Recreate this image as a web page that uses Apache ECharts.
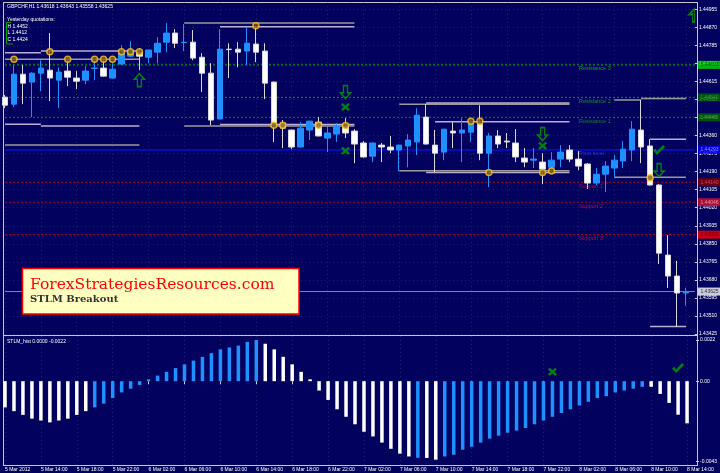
<!DOCTYPE html>
<html><head><meta charset="utf-8">
<script src="https://cdn.jsdelivr.net/npm/echarts@6/dist/echarts.min.js"></script>
<style>html,body{margin:0;padding:0;background:#02025e;}#c{width:720px;height:473px;}</style>
</head><body><div id="c"></div>
<script>
// ---------------- DATA ----------------
const symbolTitle = 'GBPCHF,H1 1.43618 1.43643 1.43558 1.43625';
const startHourUTC = [2012, 2, 5, 10];
const barCount = 77;
const xTickLabels = ['5 Mar 2012','5 Mar 14:00','5 Mar 18:00','5 Mar 22:00','6 Mar 02:00','6 Mar 06:00','6 Mar 10:00','6 Mar 14:00','6 Mar 18:00','6 Mar 22:00','7 Mar 02:00','7 Mar 06:00','7 Mar 10:00','7 Mar 14:00','7 Mar 18:00','7 Mar 22:00','8 Mar 02:00','8 Mar 06:00','8 Mar 10:00','8 Mar 14:00'];
const priceTicks = [1.43425,1.43510,1.43595,1.43680,1.43765,1.43850,1.43935,1.44020,1.44105,1.44190,1.44275,1.44360,1.44445,1.44530,1.44615,1.44700,1.44785,1.44870,1.44955];
const histTicks = [0.0022, 0, -0.0043];

const opens  = [1.44541,1.44508,1.44649,1.44612,1.44654,1.44668,1.44621,1.44664,1.44631,1.44621,1.44676,1.44678,1.44631,1.44697,1.44734,1.44753,1.44729,1.44753,1.44800,1.44843,1.44798,1.44800,1.44729,1.44654,1.44438,1.44767,1.44767,1.44758,1.44791,1.44758,1.44612,1.44419,1.44386,1.44306,1.44386,1.44423,1.44348,1.44367,1.44405,1.44381,1.44325,1.44263,1.44315,1.44306,1.44292,1.44311,1.44330,1.44447,1.44315,1.44282,1.44381,1.44372,1.44376,1.44414,1.44277,1.44358,1.44334,1.44325,1.44254,1.44244,1.44235,1.44211,1.44249,1.44292,1.44249,1.44226,1.44136,1.44178,1.44207,1.44240,1.44292,1.44386,1.44311,1.44127,1.43797,1.43698,1.43618];
const highs  = [1.44551,1.44692,1.44692,1.44659,1.44715,1.44843,1.44682,1.44725,1.44664,1.44687,1.44715,1.44725,1.44701,1.44786,1.44805,1.44772,1.44765,1.44824,1.44890,1.44861,1.44885,1.44857,1.44748,1.44701,1.44861,1.44795,1.44800,1.44871,1.44876,1.44795,1.44614,1.44433,1.44388,1.44423,1.44430,1.44447,1.44409,1.44419,1.44442,1.44390,1.44334,1.44327,1.44325,1.44358,1.44317,1.44367,1.44489,1.44508,1.44386,1.44392,1.44423,1.44442,1.44438,1.44503,1.44372,1.44386,1.44372,1.44390,1.44301,1.44301,1.44277,1.44282,1.44315,1.44315,1.44287,1.44230,1.44207,1.44240,1.44268,1.44334,1.44428,1.44527,1.44343,1.44131,1.43891,1.43769,1.43643];
const lows   = [1.44489,1.44494,1.44508,1.44447,1.44569,1.44522,1.44489,1.44593,1.44579,1.44602,1.44621,1.44638,1.44629,1.44695,1.44729,1.44668,1.44701,1.44701,1.44753,1.44772,1.44758,1.44715,1.44565,1.44409,1.44436,1.44631,1.44682,1.44692,1.44706,1.44532,1.44330,1.44301,1.44296,1.44304,1.44339,1.44356,1.44282,1.44330,1.44348,1.44230,1.44257,1.44235,1.44235,1.44277,1.44192,1.44211,1.44268,1.44318,1.44188,1.44244,1.44301,1.44235,1.44330,1.44244,1.44117,1.44301,1.44301,1.44235,1.44211,1.44207,1.44131,1.44183,1.44211,1.44235,1.44197,1.44108,1.44127,1.44094,1.44164,1.44207,1.44240,1.44230,1.44125,1.43755,1.43642,1.43458,1.43558];
const closes = [1.44503,1.44649,1.44607,1.44654,1.44678,1.44631,1.44659,1.44635,1.44616,1.44664,1.44678,1.44640,1.44673,1.44748,1.44758,1.44734,1.44763,1.44795,1.44843,1.44795,1.44800,1.44725,1.44654,1.44433,1.44767,1.44765,1.44753,1.44795,1.44753,1.44607,1.44414,1.44395,1.44306,1.44395,1.44428,1.44358,1.44372,1.44405,1.44372,1.44320,1.44259,1.44325,1.44306,1.44292,1.44315,1.44339,1.44456,1.44320,1.44277,1.44390,1.44372,1.44386,1.44419,1.44277,1.44358,1.44320,1.44330,1.44259,1.44235,1.44249,1.44202,1.44244,1.44282,1.44249,1.44216,1.44136,1.44178,1.44216,1.44244,1.44296,1.44390,1.44306,1.44127,1.43806,1.43698,1.43618,1.43625];

// STLM histogram values and colour flag (1 = blue, 0 = white)
const stlmHist = [-0.0014,-0.0016,-0.0018,-0.0020,-0.0021,-0.0022,-0.0021,-0.0020,-0.0018,-0.0016,-0.0014,-0.0012,-0.0009,-0.0006,-0.0004,-0.0002,0.0001,0.0003,0.0005,0.0007,0.0009,0.0011,0.0013,0.0015,0.0017,0.0018,0.0019,0.0021,0.0022,0.0020,0.0017,0.0013,0.0009,0.0005,0.0001,-0.0005,-0.0010,-0.0015,-0.0019,-0.0023,-0.0027,-0.00295,-0.00328,-0.00361,-0.00387,-0.00402,-0.00409,-0.00410,-0.00419,-0.00402,-0.00393,-0.00366,-0.00350,-0.00328,-0.00307,-0.00291,-0.00275,-0.00264,-0.0025,-0.0023,-0.0021,-0.0019,-0.0017,-0.0015,-0.0013,-0.0011,-0.0009,-0.0008,-0.0006,-0.0005,-0.0004,-0.0003,-0.0003,-0.00068,-0.00116,-0.00179,-0.00225];
const stlmBlue = [0,0,0,0,0,0,0,0,0,0,1,1,1,1,1,1,1,1,1,1,1,1,1,1,1,1,1,1,1,0,0,0,0,0,0,0,0,0,0,0,0,0,0,0,0,0,1,0,0,1,1,1,1,1,1,1,1,1,1,1,1,1,1,1,1,1,1,1,1,1,1,1,0,0,0,0,0];

// yesterday quotations and pivot levels
const yesterdayText = ['Yesterday quotations:', 'H 1.4452', 'L 1.4412', 'C 1.4424'];
const levelNames  = ['Resistance 3','Resistance 2','Resistance 1','Pivot level','Support 1','Support 2','Support 3'];
const levelValues = [1.44693,1.44540,1.44446,1.44293,1.44140,1.44046,1.43893];

// session range segments [startBar, endBar, price]
const grayRanges = [[0,15,1.44720],[0,15,1.44315],[20,39,1.44890],[20,39,1.44405],[44,63,1.44507],[44,63,1.44194],[68,71,1.44527],[71,76,1.44535],[68,76,1.44164]];
const lilacRanges = [[0,4,1.44750],[4,15,1.44758],[0,4,1.44413],[4,15,1.44405],[24,39,1.44873],[24,39,1.44412],[47,63,1.44514],[48,63,1.44425],[47,63,1.44186],[72,76,1.44343],[72,76,1.43460]];

// signal markers [bar, price]
const touchCircles = [[1,1.44720],[5,1.44755],[7,1.44720],[10,1.44720],[11,1.44720],[12,1.44720],[13,1.44755],[14,1.44755],[15,1.44755],[28,1.44877],[30,1.44409],[31,1.44409],[35,1.44409],[38,1.44407],[52,1.44428],[53,1.44428],[54,1.44186],[60,1.44186],[61,1.44193],[72,1.44161]];
const upArrows = [[15,1.44621]];
const edgeUpArrows = [[77,1.44927]];
const downArrows = [[38,1.44565],[60,1.44367],[73,1.44197]];
const crossMarks = [[38,1.44494],[38,1.44288],[60,1.44312]];
const checkMarks = [[73,1.44292]];
const histCross = [[61,0.0005]];
const histCheck = [[75,0.0007]];

// ---------------- CHART ----------------
const BG = '#02025e';
const GRIDC = 'rgba(110,110,170,0.28)';
const FONT = 'Liberation Sans, Arial, sans-serif';
const cats = [];
(function(){
  const t0 = Date.UTC(startHourUTC[0], startHourUTC[1], startHourUTC[2], startHourUTC[3]);
  for (let k = 0; k <= barCount; k++) {
    const d = new Date(t0 + k * 3600000);
    cats.push(d.getUTCDate() + ' Mar ' + String(d.getUTCHours()).padStart(2,'0') + ':00');
  }
})();
const lastIdx = barCount;
const PMIN = 1.43425, PMAX = 1.449893;
const HMIN = -0.004476, HMAX = 0.002414;

const levelStyle = [
  {c:'#00b400', t:[2,2], w:1, bg:'#00e000', fc:'#005000', tc:'#00d000'},
  {c:'#1a8a1a', t:[2,2], w:1, bg:'#006400', fc:'#40b040', tc:'#18b018'},
  {c:'#1a7a1a', t:[2,2], w:1, bg:'#006400', fc:'#40b040', tc:'#18a018'},
  {c:'#0010ff', t:'solid', w:1.2, bg:'#0000ff', fc:'#b0b0ff', tc:'#4040ff'},
  {c:'#b00018', t:[2,2], w:1, bg:'#800000', fc:'#ff5050', tc:'#e01030'},
  {c:'#b00018', t:[2,2], w:1, bg:'#d01030', fc:'#ffb0b0', tc:'#e01030'},
  {c:'#c00018', t:[2,2], w:1, bg:'#ff0000', fc:'#500000', tc:'#e01030'}
];
const lastClose = closes[closes.length - 1];

const extraSeries = [];
function addSegs(list, color, width) {
  list.forEach(s => extraSeries.push({
    type: 'line', xAxisIndex: 0, yAxisIndex: 0, silent: true, symbol: 'none', z: 3,
    lineStyle: {color: color, width: width}, data: [[s[0], s[2]], [s[1], s[2]]]
  }));
}
levelValues.forEach((v, k) => extraSeries.push({
  type: 'line', xAxisIndex: 0, yAxisIndex: 0, silent: true, symbol: 'none', z: 2,
  lineStyle: {color: levelStyle[k].c, type: levelStyle[k].t, width: levelStyle[k].w},
  data: [[0, v], [lastIdx, v]]
}));
extraSeries.push({
  type: 'line', xAxisIndex: 0, yAxisIndex: 0, silent: true, symbol: 'none', z: 2,
  lineStyle: {color: '#8a8a8a', width: 1}, data: [[0, lastClose], [lastIdx, lastClose]]
});
addSegs(grayRanges, '#9a9a9a', 1.5);
addSegs(lilacRanges, '#bcaed2', 1.5);

const tagData = levelValues.map((v, k) => ({
  value: [lastIdx, v],
  label: {color: levelStyle[k].fc, backgroundColor: levelStyle[k].bg}
}));
tagData.push({value: [lastIdx, lastClose], label: {color: '#000000', backgroundColor: '#ffffff'}});

const UP = 'path://M5,0 L10,6 L7,6 L7,14 L3,14 L3,6 L0,6 Z';
const HALFUP = 'path://M5,0 L5,14 L3,14 L3,6 L0,6 Z';
const DOWN = 'path://M3,0 L7,0 L7,8 L10,8 L5,14 L0,8 L3,8 Z';
const XM = 'path://M0,2 L2,0 L5,3 L8,0 L10,2 L7,5 L10,8 L8,10 L5,7 L2,10 L0,8 L3,5 Z';
const CHK = 'path://M0,6 L2,4 L4,7 L10,0 L12,2 L4,11 Z';

const option = {
  backgroundColor: BG,
  animation: false,
  textStyle: {fontFamily: FONT},
  grid: [
    {left: 5, top: 2, width: 692, height: 332},
    {left: 5, top: 336, width: 692, height: 129}
  ],
  xAxis: [
    {type: 'category', gridIndex: 0, data: cats, boundaryGap: false,
     axisLine: {show: false}, axisTick: {show: false}, axisLabel: {show: false},
     splitLine: {show: true, interval: 3, lineStyle: {color: GRIDC, type: [1,3]}}},
    {type: 'category', gridIndex: 1, data: cats, boundaryGap: false,
     axisLine: {show: false},
     axisTick: {show: true, interval: 3, length: 3, inside: false, lineStyle: {color: '#d0d0d0'}},
     axisLabel: {show: true, interval: 3, align: 'left', margin: 2, fontSize: 5, color: '#ffffff', fontFamily: FONT,
       formatter: (v, idx) => (idx % 4 === 0 && xTickLabels[idx / 4]) ? xTickLabels[idx / 4] : ''},
     splitLine: {show: true, interval: 3, lineStyle: {color: GRIDC, type: [1,3]}}}
  ],
  yAxis: [
    {type: 'value', gridIndex: 0, position: 'right', min: PMIN, max: PMAX, interval: 0.00085,
     axisLine: {show: false},
     axisTick: {show: true, length: 3, customValues: priceTicks, lineStyle: {color: '#d0d0d0'}},
     axisLabel: {show: true, customValues: priceTicks, fontSize: 5, color: '#ffffff', margin: 4, fontFamily: FONT,
       formatter: v => (+v).toFixed(5)},
     splitLine: {show: true, lineStyle: {color: GRIDC, type: [1,3]}}},
    {type: 'value', gridIndex: 1, position: 'right', min: HMIN, max: HMAX,
     axisLine: {show: false},
     axisTick: {show: true, length: 3, customValues: histTicks, lineStyle: {color: '#d0d0d0'}},
     axisLabel: {show: true, customValues: histTicks, fontSize: 5, color: '#ffffff', margin: 4, fontFamily: FONT,
       formatter: v => (+v === 0 ? '0.00' : (+v).toFixed(4))},
     splitLine: {show: false}}
  ],
  series: [
    ...extraSeries,
    {type: 'candlestick', xAxisIndex: 0, yAxisIndex: 0, barWidth: 6, z: 4,
     data: opens.map((o, k) => [o, closes[k], lows[k], highs[k]]),
     itemStyle: {color: '#1e90ff', color0: '#ffffff', borderColor: '#1e90ff', borderColor0: '#d8d8d8', borderWidth: 1}},
    {type: 'scatter', xAxisIndex: 0, yAxisIndex: 0, silent: true, z: 6,
     data: levelValues.map((v, k) => ({value: [64, v], label: {color: levelStyle[k].tc}})),
     symbolSize: 1, itemStyle: {color: 'rgba(0,0,0,0)'},
     label: {show: true, position: 'right', distance: 0, offset: [0, 4], fontSize: 5.5, fontFamily: FONT,
       formatter: p => levelNames[p.dataIndex]}},
    {type: 'scatter', xAxisIndex: 0, yAxisIndex: 0, silent: true, z: 20, clip: false,
     data: tagData, symbolSize: 1, itemStyle: {color: 'rgba(0,0,0,0)'},
     label: {show: true, position: 'right', distance: 2, fontSize: 5, fontFamily: FONT, padding: [1.5,3,1.5,3],
       formatter: p => (+p.value[1]).toFixed(5)}},
    {type: 'scatter', xAxisIndex: 0, yAxisIndex: 0, silent: true, z: 7, data: touchCircles,
     symbol: 'circle', symbolSize: 6, itemStyle: {color: '#7a5a10', borderColor: '#ffc21a', borderWidth: 1.5}},
    {type: 'scatter', xAxisIndex: 0, yAxisIndex: 0, silent: true, z: 7, data: upArrows,
     symbol: UP, symbolSize: [10, 13], itemStyle: {color: 'rgba(0,0,0,0)', borderColor: '#00a000', borderWidth: 1.5}},
    {type: 'scatter', xAxisIndex: 0, yAxisIndex: 0, silent: true, z: 7, data: edgeUpArrows, clip: false,
     symbol: HALFUP, symbolSize: [5, 13], symbolOffset: [-3, 0], itemStyle: {color: 'rgba(0,0,0,0)', borderColor: '#00a000', borderWidth: 1.5}},
    {type: 'scatter', xAxisIndex: 0, yAxisIndex: 0, silent: true, z: 7, data: downArrows,
     symbol: DOWN, symbolSize: [10, 13], itemStyle: {color: 'rgba(0,0,0,0)', borderColor: '#00a000', borderWidth: 1.5}},
    {type: 'scatter', xAxisIndex: 0, yAxisIndex: 0, silent: true, z: 7, data: crossMarks,
     symbol: XM, symbolSize: [9, 8], itemStyle: {color: '#00a000'}},
    {type: 'scatter', xAxisIndex: 0, yAxisIndex: 0, silent: true, z: 7, data: checkMarks,
     symbol: CHK, symbolSize: [12, 10], itemStyle: {color: '#00a000'}},
    {type: 'bar', xAxisIndex: 1, yAxisIndex: 1, barWidth: 3.5, silent: true,
     data: stlmHist.map((v, k) => ({value: v, itemStyle: {color: stlmBlue[k] ? '#1e90ff' : '#ffffff'}}))},
    {type: 'scatter', xAxisIndex: 1, yAxisIndex: 1, silent: true, z: 7, data: histCross,
     symbol: XM, symbolSize: [9, 8], itemStyle: {color: '#00a000'}},
    {type: 'scatter', xAxisIndex: 1, yAxisIndex: 1, silent: true, z: 7, data: histCheck,
     symbol: CHK, symbolSize: [12, 10], itemStyle: {color: '#00a000'}}
  ],
  graphic: [
    {type: 'line', shape: {x1: 3.5, y1: 2, x2: 3.5, y2: 466}, style: {stroke: '#c8c8c8', lineWidth: 1}, silent: true},
    {type: 'line', shape: {x1: 3, y1: 2.5, x2: 698, y2: 2.5}, style: {stroke: '#c8c8c8', lineWidth: 1}, silent: true},
    {type: 'line', shape: {x1: 697.5, y1: 2, x2: 697.5, y2: 466}, style: {stroke: '#c8c8c8', lineWidth: 1}, silent: true, z: 30},
    {type: 'line', shape: {x1: 3, y1: 335.5, x2: 698, y2: 335.5}, style: {stroke: '#c8c8c8', lineWidth: 1}, silent: true},
    {type: 'line', shape: {x1: 3, y1: 465.5, x2: 698, y2: 465.5}, style: {stroke: '#c8c8c8', lineWidth: 1}, silent: true},
    {type: 'text', left: 7, top: 4, style: {text: symbolTitle, fill: '#ffffff', font: '5px ' + FONT}, silent: true},
    {type: 'text', left: 7, top: 17.5, style: {text: yesterdayText[0], fill: '#ffffff', font: '5px ' + FONT}, silent: true},
    {type: 'text', left: 7.5, top: 24, style: {text: yesterdayText[1], fill: '#ffffff', font: '5px ' + FONT}, silent: true},
    {type: 'text', left: 7.5, top: 30.5, style: {text: yesterdayText[2], fill: '#ffffff', font: '5px ' + FONT}, silent: true},
    {type: 'text', left: 7.5, top: 37.5, style: {text: yesterdayText[3], fill: '#ffffff', font: '5px ' + FONT}, silent: true},
    {type: 'polyline', shape: {points: [[11, 22.5], [6.5, 22.5], [6.5, 44], [13, 44]]}, style: {stroke: '#00a000', fill: null, lineWidth: 1}, silent: true},
    {type: 'text', left: 7, top: 339, style: {text: 'STLM_hist 0.0000 -0.0022', fill: '#ffffff', font: '5px ' + FONT}, silent: true},
    {type: 'rect', shape: {x: 22.5, y: 268.5, width: 276.5, height: 45.5}, style: {fill: '#ffffc2', stroke: '#ff0000', lineWidth: 1.5}, silent: true, z: 50},
    {type: 'text', z: 51, style: {x: 30, y: 285, verticalAlign: 'middle', text: 'ForexStrategiesResources.com', fill: '#ff0000', font: '15.5px "DejaVu Serif", serif'}, silent: true},
    {type: 'text', z: 51, style: {x: 30, y: 299, verticalAlign: 'middle', text: 'STLM Breakout', fill: '#333333', font: 'bold 10px "DejaVu Serif", serif'}, silent: true}
  ]
};
const chart = echarts.init(document.getElementById('c'));
chart.setOption(option);
</script>
</body></html>
